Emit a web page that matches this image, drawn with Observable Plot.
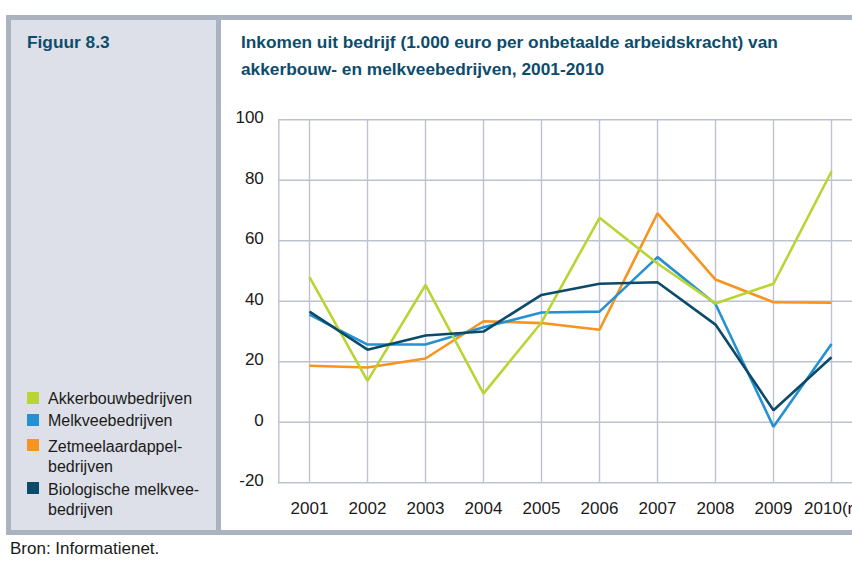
<!DOCTYPE html>
<html>
<head>
<meta charset="utf-8">
<script src="https://cdn.jsdelivr.net/npm/d3@7"></script>
<script src="https://cdn.jsdelivr.net/npm/@observablehq/plot@0.6"></script>
<style>
  html, body { margin: 0; padding: 0; background: #fff; }
  body { width: 852px; height: 561px; position: relative; overflow: hidden; font-family: "Liberation Sans", Arial, sans-serif; }
  .abs { position: absolute; }
  .bar { background: #abb2c0; }
  .panel { background: #dde0e8; }
  .title { color: #0d4c6b; font-weight: bold; font-size: 17.3px; line-height: 27px; }
  .leg { color: #1a1a1a; font-size: 16px; line-height: 20.5px; }
  .sw { width: 12px; height: 12px; }
  #chart svg { overflow: hidden; }
</style>
</head>
<body>
<div class="abs panel" style="left:11px;top:20px;width:205px;height:510px;"></div>
<div class="abs bar" style="left:6px;top:15px;width:846px;height:5px;"></div>
<div class="abs bar" style="left:6px;top:15px;width:5px;height:520px;"></div>
<div class="abs bar" style="left:216px;top:20px;width:5px;height:512px;"></div>
<div class="abs bar" style="left:6px;top:530px;width:846px;height:5px;"></div>

<div class="abs title" style="left:27px;top:29px;">Figuur 8.3</div>
<div class="abs title" style="left:241px;top:29px;">Inkomen uit bedrijf (1.000 euro per onbetaalde arbeidskracht) van<br>akkerbouw- en melkveebedrijven, 2001-2010</div>

<div id="legend"></div>
<div id="chart" class="abs" style="left:221px;top:100px;width:631px;height:430px;"></div>

<div class="abs" style="left:10px;top:539px;font-size:17px;line-height:20px;color:#1a1a1a;">Bron: Informatienet.</div>

<script>
// ---- data ----
const years = [2001, 2002, 2003, 2004, 2005, 2006, 2007, 2008, 2009, 2010];
const yearLabels = ["2001", "2002", "2003", "2004", "2005", "2006", "2007", "2008", "2009", "2010(r)"];
const yTicks = [-20, 0, 20, 40, 60, 80, 100];

const akkerbouw = [48, 13.7, 45.4, 9.5, 33, 67.6, 52.5, 39.3, 45.8, 82.9];
const melkvee   = [35.6, 25.7, 25.7, 31.4, 36.3, 36.6, 54.6, 39.1, -1.5, 25.9];
const zetmeel   = [18.7, 18.1, 21.1, 33.4, 32.8, 30.6, 69.1, 47.2, 39.7, 39.5];
const biologisch = [36.6, 24.0, 28.7, 30.0, 42.1, 45.8, 46.3, 32.3, 4.0, 21.5];

const seriesNames = ["Akkerbouwbedrijven", "Melkveebedrijven", "Zetmeelaardappelbedrijven", "Biologische melkveebedrijven"];
const legendLabels = ["Akkerbouwbedrijven", "Melkveebedrijven", "Zetmeelaardappel-<br>bedrijven", "Biologische melkvee-<br>bedrijven"];
const seriesColors = ["#b9d433", "#2591d2", "#f7941e", "#0c4a69"];

// ---- legend ----
const legendTops = [389, 411.3, 436.5, 479.8];
const legend = document.getElementById("legend");
legendLabels.forEach((lab, i) => {
  const top = legendTops[i];
  const sw = document.createElement("div");
  sw.className = "abs sw";
  sw.style.left = "27px";
  sw.style.top = (top + 2.5) + "px";
  sw.style.background = seriesColors[i];
  legend.appendChild(sw);
  const t = document.createElement("div");
  t.className = "abs leg";
  t.style.left = "48px";
  t.style.top = top + "px";
  t.innerHTML = lab;
  legend.appendChild(t);
});

// ---- chart ----
const allValues = [akkerbouw, melkvee, zetmeel, biologisch];
const rows = [];
allValues.forEach((vals, s) => vals.forEach((v, i) => rows.push({year: years[i], value: v, series: seriesNames[s]})));
const drawOrder = [2, 1, 0, 3];

const ml = 57.3;
const plot = Plot.plot({
  width: 631,
  height: 430,
  marginLeft: ml,
  marginRight: 0,
  marginTop: 19.3,
  marginBottom: 47.7,
  style: {fontFamily: '"Liberation Sans", Arial, sans-serif', fontSize: "17px", color: "#1a1a1a", background: "transparent", overflow: "hidden"},
  x: {type: "point", domain: years, range: [ml, ml + 584], padding: 0.5},
  y: {domain: [-20, 100]},
  color: {domain: seriesNames, range: seriesColors},
  marks: [
    Plot.gridY(yTicks, {stroke: "#bcc2cf", strokeOpacity: 1, strokeWidth: 1.4}),
    Plot.gridX(years, {stroke: "#bcc2cf", strokeOpacity: 1, strokeWidth: 1.4}),
    Plot.frame({anchor: "left", stroke: "#bcc2cf", strokeWidth: 1.4}),
    Plot.axisY(yTicks, {tickSize: 0, tickPadding: 15, label: null, fontSize: 17, fill: "#1a1a1a", dy: -2,
      tickFormat: (d) => String(d)}),
    Plot.axisX(years, {tickSize: 0, tickPadding: 19, label: null, fontSize: 17, fill: "#1a1a1a",
      tickFormat: (d) => yearLabels[years.indexOf(d)]}),
    ...drawOrder.map(s => Plot.lineY(rows.filter(r => r.series === seriesNames[s]), {
      x: "year", y: "value", stroke: "series", strokeWidth: 2.6, strokeLinejoin: "miter", strokeLinecap: "butt"
    }))
  ]
});
document.getElementById("chart").appendChild(plot);
</script>
</body>
</html>
